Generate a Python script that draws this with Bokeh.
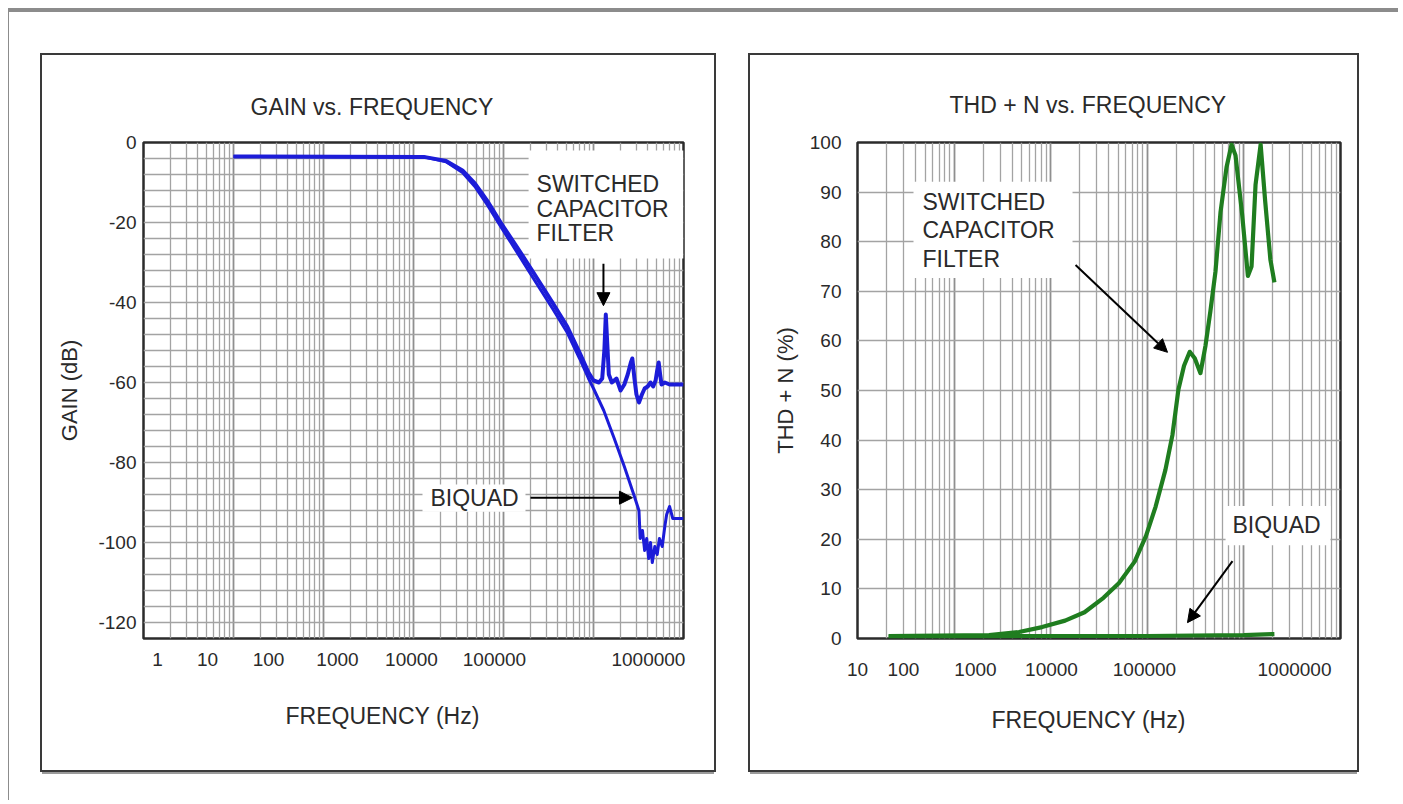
from bokeh.plotting import figure
from bokeh.layouts import row, column
from bokeh.models import FixedTicker, Spacer, Arrow, NormalHead, Range1d, Title
from bokeh.core.properties import value
from bokeh.embed import file_html
from bokeh.resources import INLINE

FONT = "Liberation Sans"

# ---------------- GAIN vs. FREQUENCY (left panel) ----------------
gain_scf_freq = [10, 1300, 2300, 3500, 4800, 6700, 9300, 14000, 21500, 35000,
                 51000, 70000, 88000, 100000, 115000, 125000, 132000, 137000, 142000, 148000,
                 160000, 180000, 200000, 220000, 240000, 260000, 270000, 285000, 300000, 320000,
                 345000, 370000, 400000, 430000, 460000, 490000, 510000, 530000, 550000, 570000,
                 620000, 700000, 800000, 1000000]
gain_scf_db = [-3.5, -3.6, -4.6, -7, -10.2, -14.8, -20, -26, -32.5, -40,
               -46, -52.5, -57.5, -59.5, -60, -59, -52, -43, -50, -58,
               -60, -59, -62, -60.5, -58, -55, -54, -59, -63, -65,
               -63, -61.5, -61, -60, -61, -59.5, -57, -55, -58, -60.5,
               -60, -60.5, -60.5, -60.5]
gain_bq_freq = [10, 1300, 2300, 3500, 4800, 6700, 9300, 14000, 21500, 35000,
                51000, 70000, 88000, 100000, 130000, 170000, 220000, 280000, 320000, 330000,
                350000, 370000, 390000, 410000, 430000, 450000, 480000, 510000, 540000, 580000,
                620000, 650000, 700000, 760000, 850000, 1000000]
gain_bq_db = [-3.5, -3.6, -4.8, -7.5, -11, -15.8, -21, -27.3, -34, -41.5,
              -47.5, -54, -59, -61.5, -67, -74, -81, -88, -92, -99,
              -97, -102, -99, -104, -100, -105, -101, -103, -99, -101,
              -96, -93, -91, -94, -94, -94]
gain_x_labels = ["1", "10", "100", "1000", "10000", "100000", "1000000"]
gain_x_label_at = [1.43, 5.14, 24.5, 143, 950, 7940, 408000]
gain_y_ticks = [0, -20, -40, -60, -80, -100, -120]
gain_y_labels = ["0", "-20", "-40", "-60", "-80", "-100", "-120"]

# ---------------- THD + N vs. FREQUENCY (right panel) ----------------
thd_scf_freq = [21, 230, 470, 815, 1410, 2240, 3520, 5100, 7400, 9700,
                12200, 15400, 18200, 21000, 24000, 27500, 31000, 35500, 40000, 45000,
                50800, 57300, 66100, 74500, 81900, 95800, 110000, 120000, 132000, 149000,
                166000, 188000, 207000]
thd_scf_pct = [0.5, 0.7, 1.3, 2.3, 3.6, 5.3, 8.2, 11.2, 15.5, 20.7,
               26.6, 34, 41, 50.2, 55, 57.8, 56.5, 53.5, 59, 66,
               74, 86, 95, 99.6, 97.4, 85.6, 73.1, 75, 91.5, 99.6,
               88.2, 76.4, 71.8]
thd_bq_freq = [21, 100, 500, 2000, 10000, 30000, 100000, 207000]
thd_bq_pct = [0.4, 0.4, 0.5, 0.5, 0.5, 0.6, 0.7, 0.9]
thd_x_labels = ["10", "100", "1000", "10000", "100000", "1000000"]
thd_x_label_at = [10, 29.9, 166.5, 1019, 9350, 334000]
thd_y_ticks = [0, 10, 20, 30, 40, 50, 60, 70, 80, 90, 100]

BLUE = "#1c1cd8"
GREEN = "#1f7d1f"
TEXT = "#2a2a2a"
GRID = "#a3a3a3"


def decade_grid(lo_exp, hi_exp):
    majors = [10.0 ** e for e in range(lo_exp, hi_exp + 1)]
    minors = [m * 10.0 ** e for e in range(lo_exp, hi_exp) for m in range(2, 10)]
    return FixedTicker(ticks=majors, minor_ticks=minors)


def base_fig(width, height, x_range, y_range, left, right, top, bottom):
    p = figure(width=width, height=height, x_axis_type="log",
               x_range=x_range, y_range=y_range,
               output_backend="svg", toolbar_location=None,
               min_border_left=left, min_border_right=right,
               min_border_top=top, min_border_bottom=bottom)
    p.background_fill_color = "white"
    p.border_fill_color = "white"
    p.outline_line_color = "#2b2b2b"
    p.outline_line_width = 2.5
    p.outline_line_alpha = 1.0
    for ax in (p.xaxis[0], p.yaxis[0]):
        ax.axis_line_color = None
        ax.major_tick_line_color = None
        ax.minor_tick_line_color = None
        ax.major_tick_out = 0
        ax.major_tick_in = 0
        ax.major_label_text_font = FONT
        ax.major_label_text_font_size = "19px"
        ax.major_label_text_color = TEXT
        ax.axis_label_text_font = FONT
        ax.axis_label_text_font_size = "22px"
        ax.axis_label_text_font_style = "normal"
        ax.axis_label_text_color = TEXT
    p.xgrid.grid_line_color = "#8f8f8f"
    p.xgrid.grid_line_width = 1.8
    p.xgrid.minor_grid_line_color = GRID
    p.xgrid.minor_grid_line_width = 1.3
    p.ygrid.grid_line_color = GRID
    p.ygrid.grid_line_width = 1.3
    p.title.text_font = FONT
    p.title.text_font_size = "23px"
    p.title.text_font_style = "normal"
    p.title.text_color = TEXT
    p.title.align = "left"
    return p


def xlabel_title(offset, standoff):
    return Title(text="FREQUENCY (Hz)", align="left", offset=offset, standoff=standoff,
                 text_font=FONT, text_font_size="23px", text_font_style="normal",
                 text_color=TEXT)


def arrow(x0, y0, x1, y1):
    return Arrow(end=NormalHead(size=13, fill_color="black", line_color="black"),
                 x_start=x0, y_start=y0, x_end=x1, y_end=y1,
                 line_color="black", line_width=2)


def note(p, xs, ys, texts):
    p.text(x=xs, y=ys, text=texts,
           text_font=value(FONT), text_font_size="23px", text_color=TEXT,
           text_align="left", text_baseline="middle")


# ---------------- left figure ----------------
pl = base_fig(672, 715, Range1d(1, 1e6), Range1d(-124, 0), 101, 31, 87, 132)
pl.title.text = "GAIN vs. FREQUENCY"
pl.title.offset = 107
pl.title.standoff = 45
pl.xgrid.ticker = decade_grid(0, 6)
pl.ygrid.ticker = FixedTicker(ticks=[-4 * k for k in range(0, 32)])
pl.xaxis.ticker = FixedTicker(ticks=gain_x_label_at)
pl.xaxis.major_label_overrides = dict(zip(gain_x_label_at, gain_x_labels))
pl.xaxis.major_label_standoff = 14
pl.yaxis.ticker = FixedTicker(ticks=gain_y_ticks)
pl.yaxis.major_label_overrides = dict(zip(gain_y_ticks, gain_y_labels))
pl.yaxis.major_label_standoff = 7
pl.yaxis.axis_label = "GAIN (dB)"
pl.yaxis.axis_label_standoff = 13
pl.add_layout(xlabel_title(142, 65), "below")

pl.quad(left=[19000, 1259], right=[1e6, 17550], top=[-2, -85.5], bottom=[-29, -92.3],
        fill_color="white", line_color=None)
pl.line(gain_bq_freq, gain_bq_db, line_color=BLUE, line_width=3, line_join="round")
pl.line(gain_scf_freq, gain_scf_db, line_color=BLUE, line_width=4, line_join="round")
note(pl, [23300, 23300, 23300], [-10.3, -16.5, -22.5], ["SWITCHED", "CAPACITOR", "FILTER"])
note(pl, [1545], [-88.8], ["BIQUAD"])
pl.add_layout(arrow(129000, -30.3, 129000, -40.8))
pl.add_layout(arrow(19950, -88.8, 271000, -88.8))

# ---------------- right figure ----------------
pr = base_fig(607, 715, Range1d(10, 1e6), Range1d(0, 100), 107, 17, 83, 126)
pr.title.text = "THD + N vs. FREQUENCY"
pr.title.offset = 92
pr.title.standoff = 50
pr.xgrid.ticker = decade_grid(1, 6)
pr.ygrid.ticker = FixedTicker(ticks=thd_y_ticks)
pr.xaxis.ticker = FixedTicker(ticks=thd_x_label_at)
pr.xaxis.major_label_overrides = dict(zip(thd_x_label_at, thd_x_labels))
pr.xaxis.major_label_standoff = 24
pr.yaxis.ticker = FixedTicker(ticks=thd_y_ticks)
pr.yaxis.major_label_standoff = 16
pr.yaxis.axis_label = "THD + N (%)"
pr.yaxis.axis_label_standoff = 9
pr.add_layout(xlabel_title(134, 53), "below")

pr.quad(left=[38, 64600], right=[1683, 787000], top=[92.1, 26.7], bottom=[72.7, 18.8],
        fill_color="white", line_color=None)
pr.line(thd_scf_freq, thd_scf_pct, line_color=GREEN, line_width=4.2, line_join="round")
pr.line(thd_bq_freq, thd_bq_pct, line_color=GREEN, line_width=4.2, line_join="round")
note(pr, [47.1, 47.1, 47.1], [88.1, 82.4, 76.5], ["SWITCHED", "CAPACITOR", "FILTER"])
note(pr, [76200], [22.9], ["BIQUAD"])
pr.add_layout(arrow(1808, 75.3, 16190, 57.7))
pr.add_layout(arrow(76200, 15.6, 26060, 3.2))

panel_style = {"outline": "2px solid #3a3a3a", "box-shadow": "0 4px 0 #9a9a9a"}
pl.styles = panel_style
pr.styles = panel_style

inner = column(
    Spacer(height=47, width=1390),
    row(Spacer(width=34, height=715), pl, Spacer(width=36, height=715), pr,
        Spacer(width=41, height=715)),
    Spacer(height=30, width=1390),
    styles={"box-shadow": "inset 1px 4px 0 #8c8c8c", "background": "white"},
)
layout = column(Spacer(height=8, width=1398), row(Spacer(width=8, height=792), inner))

open("out.html", "w").write(file_html(layout, INLINE))
